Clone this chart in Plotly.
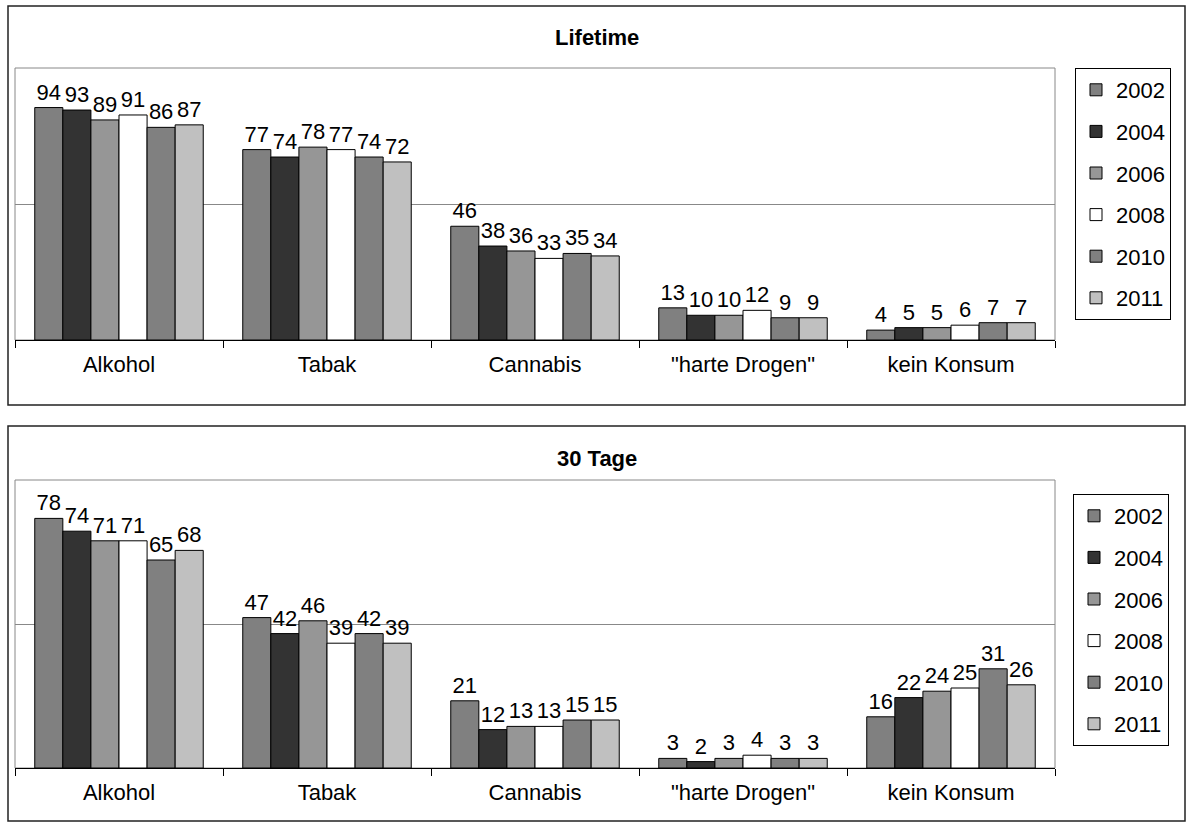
import plotly.graph_objects as go

categories = ["Alkohol", "Tabak", "Cannabis", "\"harte Drogen\"", "kein Konsum"]
years = ["2002", "2004", "2006", "2008", "2010", "2011"]

lifetime_2002 = [94, 77, 46, 13, 4]
lifetime_2004 = [93, 74, 38, 10, 5]
lifetime_2006 = [89, 78, 36, 10, 5]
lifetime_2008 = [91, 77, 33, 12, 6]
lifetime_2010 = [86, 74, 35, 9, 7]
lifetime_2011 = [87, 72, 34, 9, 7]

tage30_2002 = [78, 47, 21, 3, 16]
tage30_2004 = [74, 42, 12, 2, 22]
tage30_2006 = [71, 46, 13, 3, 24]
tage30_2008 = [71, 39, 13, 4, 25]
tage30_2010 = [65, 42, 15, 3, 31]
tage30_2011 = [68, 39, 15, 3, 26]

lifetime = [lifetime_2002, lifetime_2004, lifetime_2006, lifetime_2008, lifetime_2010, lifetime_2011]
tage30 = [tage30_2002, tage30_2004, tage30_2006, tage30_2008, tage30_2010, tage30_2011]

colors = ["#808080", "#333333", "#969696", "#FFFFFF", "#808080", "#C0C0C0"]

W, H = 1188, 823
FONT = "Liberation Sans, Arial, Helvetica, sans-serif"
FS = 22


def px_x(p):
    return p / W


def px_y(p):
    return 1 - p / H


fig = go.Figure()

for i, y in enumerate(years):
    fig.add_trace(go.Bar(
        x=categories, y=lifetime[i], name=y, text=[str(v) for v in lifetime[i]],
        textposition="outside", constraintext="none", cliponaxis=False,
        textfont=dict(size=FS, color="black", family=FONT),
        marker=dict(color=colors[i], line=dict(color="black", width=1)),
        xaxis="x", yaxis="y", legend="legend", legendgroup="a" + y,
        hoverinfo="skip"))
for i, y in enumerate(years):
    fig.add_trace(go.Bar(
        x=categories, y=tage30[i], name=y, text=[str(v) for v in tage30[i]],
        textposition="outside", constraintext="none", cliponaxis=False,
        textfont=dict(size=FS, color="black", family=FONT),
        marker=dict(color=colors[i], line=dict(color="black", width=1)),
        xaxis="x2", yaxis="y2", legend="legend2", legendgroup="b" + y,
        hoverinfo="skip"))

xdom = [px_x(15), px_x(1055)]
xaxis_common = dict(
    type="category", tickson="boundaries", ticks="outside", ticklen=7,
    tickcolor="black", tickwidth=1, showline=True, linecolor="black", linewidth=1,
    showgrid=False, tickfont=dict(size=FS, color="black", family=FONT),
    ticklabelstandoff=5, fixedrange=True)
yaxis_common = dict(showticklabels=False, showline=False, zeroline=False,
                    showgrid=True, gridcolor="#888888", gridwidth=1, ticks="",
                    fixedrange=True)

legend_common = dict(
    bgcolor="white", bordercolor="black", borderwidth=1,
    font=dict(size=FS, color="black", family=FONT),
    xanchor="left", yanchor="top", tracegroupgap=10, itemclick=False,
    itemdoubleclick=False)

fig.update_layout(
    width=W, height=H, margin=dict(l=0, r=0, t=0, b=0),
    paper_bgcolor="white", plot_bgcolor="white",
    font=dict(family=FONT, color="black"),
    barmode="group", bargap=0.19, bargroupgap=0,
    xaxis=dict(domain=xdom, anchor="y", **xaxis_common),
    yaxis=dict(domain=[px_y(340), px_y(68)], range=[0, 110], tickvals=[55, 110], anchor="x", **yaxis_common),
    xaxis2=dict(domain=xdom, anchor="y2", **xaxis_common),
    yaxis2=dict(domain=[px_y(768), px_y(480)], range=[0, 90], tickvals=[45, 90], anchor="x2", **yaxis_common),
    legend=dict(x=px_x(1075), y=px_y(68), **legend_common),
    legend2=dict(x=px_x(1073), y=px_y(494), **legend_common),
    showlegend=True,
    shapes=[
        dict(type="rect", xref="paper", yref="paper", x0=px_x(8), x1=px_x(1185),
             y0=px_y(405), y1=px_y(6), line=dict(color="#222222", width=1.5)),
        dict(type="rect", xref="paper", yref="paper", x0=px_x(8), x1=px_x(1185),
             y0=px_y(821), y1=px_y(426), line=dict(color="#222222", width=1.5)),
        dict(type="rect", xref="x domain", yref="y domain", x0=0, x1=1, y0=0, y1=1,
             line=dict(color="#888888", width=1), layer="below"),
        dict(type="rect", xref="x2 domain", yref="y2 domain", x0=0, x1=1, y0=0, y1=1,
             line=dict(color="#888888", width=1), layer="below"),
    ],
    annotations=[
        dict(text="<b>Lifetime</b>", xref="paper", yref="paper", x=px_x(597), y=px_y(38),
             showarrow=False, font=dict(size=FS, color="black", family=FONT),
             xanchor="center", yanchor="middle"),
        dict(text="<b>30 Tage</b>", xref="paper", yref="paper", x=px_x(597), y=px_y(458),
             showarrow=False, font=dict(size=FS, color="black", family=FONT),
             xanchor="center", yanchor="middle"),
    ],
)

fig.write_html("out.html", config={"displayModeBar": False},
               post_script="document.body.style.margin='0';document.body.style.overflow='hidden';")
